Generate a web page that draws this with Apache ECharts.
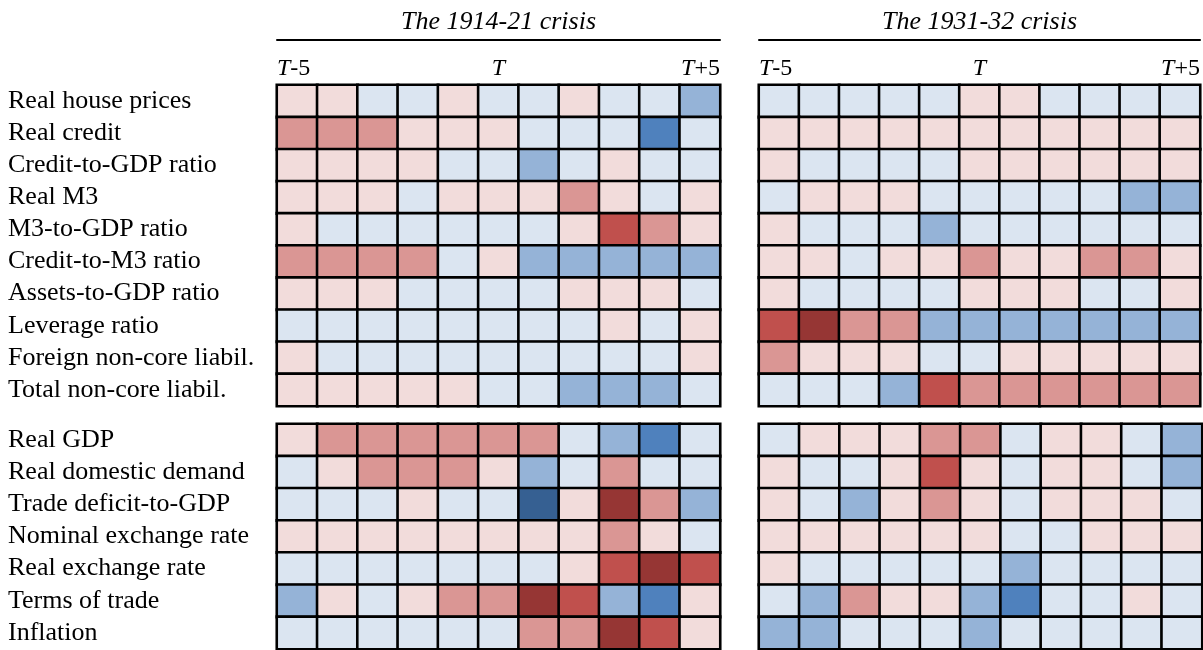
<!DOCTYPE html>
<html>
<head>
<meta charset="utf-8">
<script src="https://cdn.jsdelivr.net/npm/echarts@6/dist/echarts.min.js"></script>
<style>
html,body{margin:0;padding:0;background:#fff;}
#chart{width:1203px;height:650px;}
</style>
</head>
<body>
<div id="chart"></div>
<script>
// ---- data ----
const columns = ['T-5','T-4','T-3','T-2','T-1','T','T+1','T+2','T+3','T+4','T+5'];
const tickLabels = ['T-5','T','T+5'];
const crisisTitles = ['The 1914-21 crisis','The 1931-32 crisis'];
const rowsTop = ['Real house prices','Real credit','Credit-to-GDP ratio','Real M3','M3-to-GDP ratio',
  'Credit-to-M3 ratio','Assets-to-GDP ratio','Leverage ratio','Foreign non-core liabil.','Total non-core liabil.'];
const rowsBottom = ['Real GDP','Real domestic demand','Trade deficit-to-GDP','Nominal exchange rate',
  'Real exchange rate','Terms of trade','Inflation'];

// codes: -4 dark blue, -3 blue, -2 mid blue, -1 light blue, 1 light red, 2 mid red, 3 red, 4 dark red
const crisis1914Top = [
  [1,1,-1,-1,1,-1,-1,1,-1,-1,-2],
  [2,2,2,1,1,1,-1,-1,-1,-3,-1],
  [1,1,1,1,-1,-1,-2,-1,1,-1,-1],
  [1,1,1,-1,1,1,1,2,1,-1,1],
  [1,-1,-1,-1,-1,-1,-1,1,3,2,1],
  [2,2,2,2,-1,1,-2,-2,-2,-2,-2],
  [1,1,1,-1,-1,-1,-1,1,1,1,-1],
  [-1,-1,-1,-1,-1,-1,-1,-1,1,-1,1],
  [1,-1,-1,-1,-1,-1,-1,-1,-1,-1,1],
  [1,1,1,1,1,-1,-1,-2,-2,-2,-1]
];
const crisis1914Bottom = [
  [1,2,2,2,2,2,2,-1,-2,-3,-1],
  [-1,1,2,2,2,1,-2,-1,2,-1,-1],
  [-1,-1,-1,1,-1,-1,-4,1,4,2,-2],
  [1,1,1,1,1,1,1,1,2,1,-1],
  [-1,-1,-1,-1,-1,-1,-1,1,3,4,3],
  [-2,1,-1,1,2,2,4,3,-2,-3,1],
  [-1,-1,-1,-1,-1,-1,2,2,4,3,1]
];
const crisis1931Top = [
  [-1,-1,-1,-1,-1,1,1,-1,-1,-1,-1],
  [1,1,1,1,1,1,1,1,1,1,1],
  [1,-1,-1,-1,-1,1,1,1,1,1,1],
  [-1,1,1,1,-1,-1,-1,-1,-1,-2,-2],
  [1,-1,-1,-1,-2,-1,-1,-1,-1,-1,-1],
  [1,1,-1,1,1,2,1,1,2,2,1],
  [1,-1,-1,-1,-1,1,1,1,-1,-1,1],
  [3,4,2,2,-2,-2,-2,-2,-2,-2,-2],
  [2,1,1,1,-1,-1,1,1,1,1,1],
  [-1,-1,-1,-2,3,2,2,2,2,2,2]
];
const crisis1931Bottom = [
  [-1,1,1,1,2,2,-1,1,1,-1,-2],
  [1,-1,-1,1,3,1,-1,1,1,-1,-2],
  [1,-1,-2,1,2,1,-1,1,1,1,-1],
  [1,1,1,1,1,1,-1,-1,1,1,1],
  [1,-1,-1,-1,-1,-1,-2,-1,-1,-1,-1],
  [-1,-2,2,1,1,-2,-3,-1,-1,1,-1],
  [-2,-2,-1,-1,-1,-2,-1,-1,-1,-1,-1]
];

// ---- styling ----
const FONT = 'Liberation Serif';
const palette = [
  {value:-4, color:'#366092'}, {value:-3, color:'#4f81bd'}, {value:-2, color:'#95b3d7'}, {value:-1, color:'#dbe5f1'},
  {value:1, color:'#f2dcdb'}, {value:2, color:'#da9694'}, {value:3, color:'#c0504d'}, {value:4, color:'#963634'}
];

const panels = [
  {grid:{left:277, top:85, width:443, height:321}, rows:rowsTop, data:crisis1914Top, labels:true, title:crisisTitles[0]},
  {grid:{left:759, top:85, width:443, height:321}, rows:rowsTop, data:crisis1931Top, labels:false, title:crisisTitles[1]},
  {grid:{left:277, top:424, width:443, height:225}, rows:rowsBottom, data:crisis1914Bottom, labels:true},
  {grid:{left:759, top:424, width:443, height:225}, rows:rowsBottom, data:crisis1931Bottom, labels:false}
];

function tickFmt(v){
  const lab = v < 0 ? tickLabels[0] : (v === 0 ? tickLabels[1] : tickLabels[2]);
  const rest = lab.slice(1);
  return '{i|' + lab[0] + '}' + (rest ? '{n|' + rest + '}' : '');
}

const grid = [], xAxis = [], yAxis = [], series = [];
panels.forEach((p, i) => {
  grid.push(Object.assign({containLabel:false}, p.grid));
  const catIdx = xAxis.length;
  xAxis.push({type:'category', gridIndex:i, data:columns, show:false});
  if (p.title) {
    xAxis.push({
      type:'value', gridIndex:i, position:'top', min:-5.5, max:5.5, interval:5.5,
      axisLine:{show:false}, axisTick:{show:false}, splitLine:{show:false},
      axisLabel:{
        show:true, margin:4, formatter:tickFmt, showMinLabel:true, showMaxLabel:true,
        alignMinLabel:'left', alignMaxLabel:'right', hideOverlap:false,
        rich:{
          i:{fontFamily:FONT, fontStyle:'italic', fontSize:24, color:'#000'},
          n:{fontFamily:FONT, fontSize:24, color:'#000'}
        }
      }
    });
    xAxis.push({
      type:'value', gridIndex:i, position:'top', offset:45, min:0, max:1,
      axisLine:{show:true, lineStyle:{color:'#000', width:2}},
      axisTick:{show:false}, axisLabel:{show:false}, splitLine:{show:false},
      name:p.title, nameLocation:'middle', nameGap:5,
      nameTextStyle:{fontFamily:FONT, fontStyle:'italic', fontSize:26, color:'#000'}
    });
  }
  yAxis.push({
    type:'category', gridIndex:i, data:p.rows, inverse:true,
    axisLine:{show:false}, axisTick:{show:false}, splitLine:{show:false},
    axisLabel:{show:p.labels, interval:0, hideOverlap:false, align:'left', margin:269, fontFamily:FONT, fontSize:26, color:'#000'}
  });
  const d = [];
  p.data.forEach((row, r) => row.forEach((v, c) => d.push([c, r, v])));
  series.push({
    type:'heatmap', xAxisIndex:catIdx, yAxisIndex:i, data:d,
    itemStyle:{borderColor:'#000', borderWidth:2.6},
    emphasis:{disabled:true}, progressive:0, animation:false
  });
});

const chart = echarts.init(document.getElementById('chart'), null, {renderer:'canvas'});
chart.setOption({
  backgroundColor:'#fff',
  animation:false,
  grid, xAxis, yAxis, series,
  visualMap:{type:'piecewise', show:false, dimension:2, pieces:palette, seriesIndex:[0,1,2,3]}
});
</script>
</body>
</html>
